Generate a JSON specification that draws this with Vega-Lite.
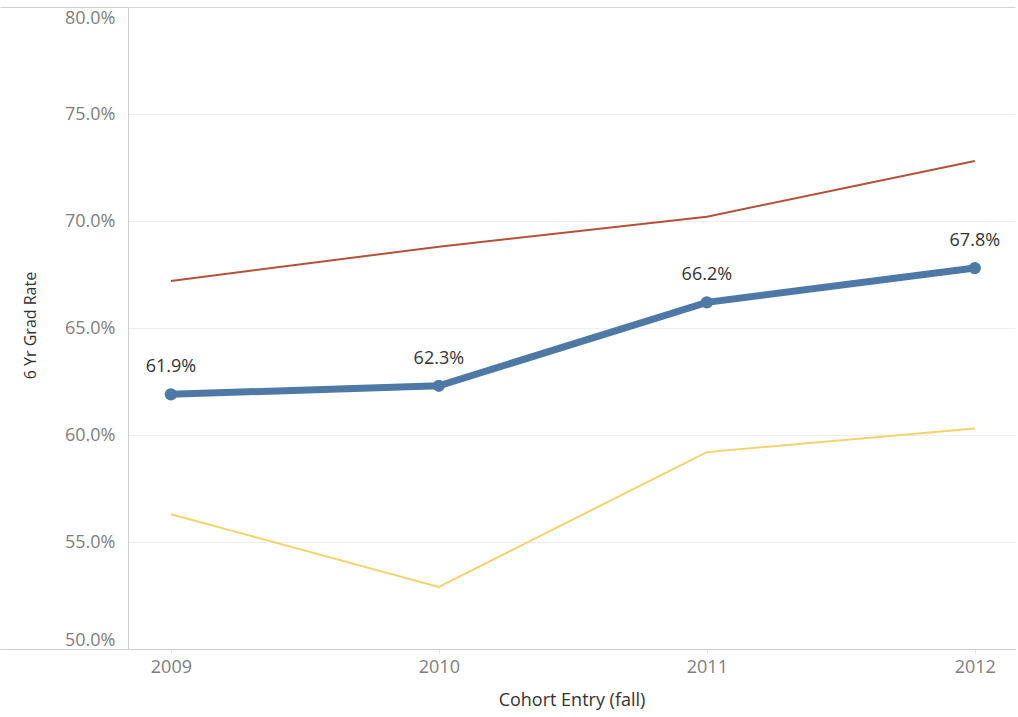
{
  "$schema": "https://vega.github.io/schema/vega-lite/v6.json",
  "width": 887,
  "height": 642,
  "autosize": {"type": "none"},
  "padding": {"left": 128, "top": 7, "right": 3, "bottom": 68},
  "background": "white",
  "config": {
    "view": {"stroke": null},
    "font": "Open Sans"
  },
  "data": {
    "values": [
      {"year": 2009, "series": "6 Yr Grad Rate", "rate": 0.619},
      {"year": 2010, "series": "6 Yr Grad Rate", "rate": 0.623},
      {"year": 2011, "series": "6 Yr Grad Rate", "rate": 0.662},
      {"year": 2012, "series": "6 Yr Grad Rate", "rate": 0.678},
      {"year": 2009, "series": "Upper", "rate": 0.672},
      {"year": 2010, "series": "Upper", "rate": 0.688},
      {"year": 2011, "series": "Upper", "rate": 0.702},
      {"year": 2012, "series": "Upper", "rate": 0.728},
      {"year": 2009, "series": "Lower", "rate": 0.563},
      {"year": 2010, "series": "Lower", "rate": 0.529},
      {"year": 2011, "series": "Lower", "rate": 0.592},
      {"year": 2012, "series": "Lower", "rate": 0.603}
    ]
  },
  "encoding": {
    "x": {
      "field": "year",
      "type": "quantitative",
      "scale": {"domain": [2008.84, 2012.15], "nice": false, "zero": false},
      "axis": {
        "title": "Cohort Entry (fall)",
        "values": [2009, 2010, 2011, 2012],
        "format": "d",
        "labelOverlap": false,
        "grid": false,
        "domainColor": "#cccccc",
        "tickColor": "#e6e6e6",
        "tickSize": 5,
        "labelPadding": 4,
        "labelFontSize": 18,
        "labelColor": "#808080",
        "titleFontSize": 18,
        "titleFontWeight": "normal",
        "titleColor": "#333333",
        "titleBaseline": "middle",
        "titleY": 51
      }
    },
    "y": {
      "field": "rate",
      "type": "quantitative",
      "scale": {"domain": [0.5, 0.8], "nice": false, "zero": false},
      "axis": {
        "title": "6 Yr Grad Rate",
        "values": [0.5, 0.55, 0.6, 0.65, 0.7, 0.75, 0.8],
        "format": ".1%",
        "labelFlush": true,
        "labelOverlap": false,
        "gridColor": {"condition": {"test": "datum.value == 0.8", "value": "#d4d4d4"}, "value": "#efefef"},
        "domainColor": "#cccccc",
        "tickColor": "#d0d0d0",
        "tickSize": {"condition": {"test": "datum.value == 0.8 || datum.value == 0.5", "value": 128}, "value": 0},
        "labelPadding": {"condition": {"test": "datum.value == 0.8 || datum.value == 0.5", "value": -115}, "value": 13},
        "labelOffset": {"condition": {"test": "datum.value == 0.8", "value": 2}, "value": 0},
        "labelFontSize": 18,
        "labelColor": "#808080",
        "titleFontSize": 16,
        "titleFontWeight": "normal",
        "titleColor": "#333333",
        "titleBaseline": "middle",
        "titleX": -98,
        "titleY": 318
      }
    }
  },
  "layer": [
    {
      "mark": {"type": "line", "strokeWidth": 2},
      "transform": [{"filter": "datum.series != '6 Yr Grad Rate'"}],
      "encoding": {
        "color": {
          "field": "series",
          "type": "nominal",
          "scale": {"domain": ["Upper", "Lower"], "range": ["#b5503a", "#f3d36b"]},
          "legend": null
        }
      }
    },
    {
      "mark": {"type": "line", "strokeWidth": 7, "color": "#4e79a7", "point": {"filled": true, "size": 150, "color": "#4e79a7"}},
      "transform": [{"filter": "datum.series == '6 Yr Grad Rate'"}],
      "encoding": {}
    },
    {
      "mark": {"type": "text", "dy": -27, "fontSize": 18, "color": "#333333"},
      "transform": [{"filter": "datum.series == '6 Yr Grad Rate'"}],
      "encoding": {
        "text": {"field": "rate", "type": "quantitative", "format": ".1%"}
      }
    }
  ]
}
